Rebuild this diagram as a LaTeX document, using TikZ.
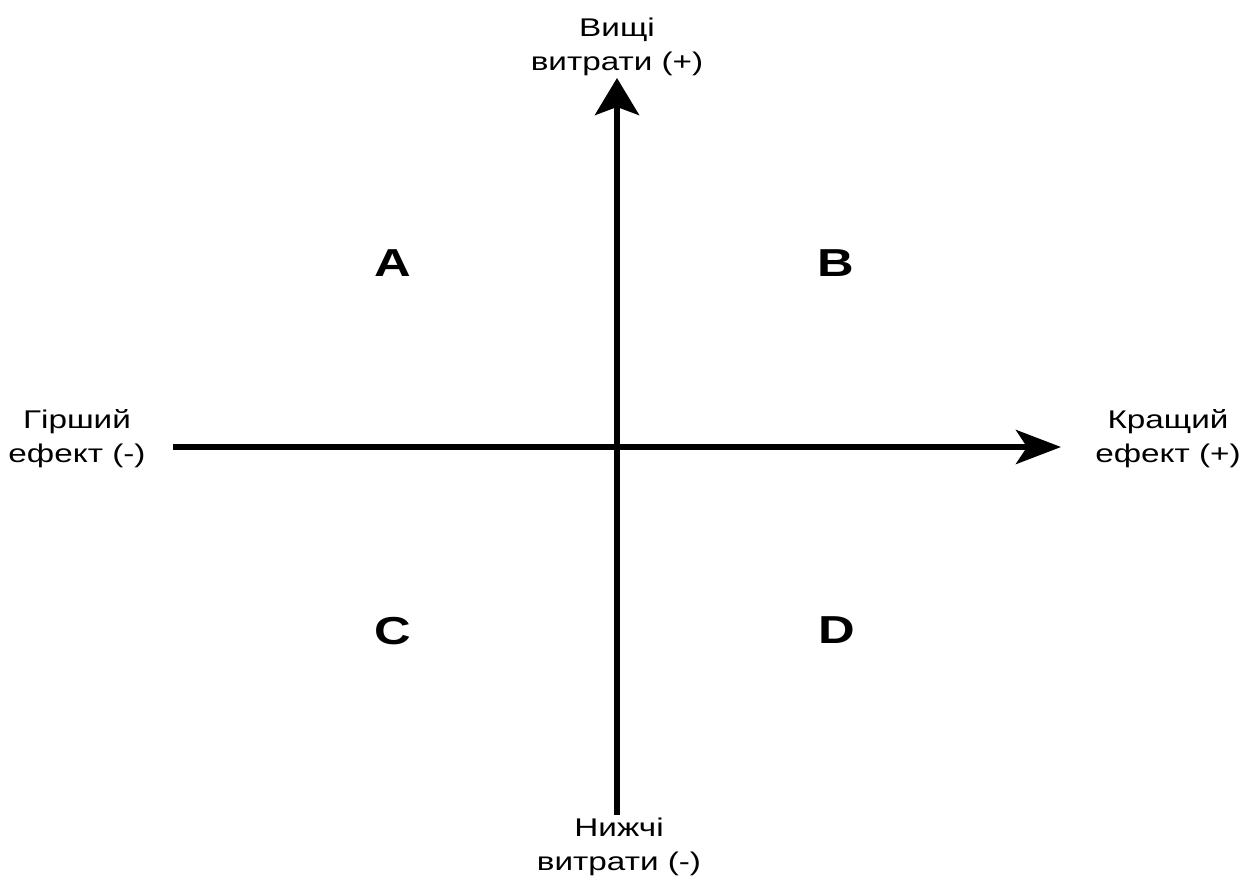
\documentclass[tikz,border=0pt]{standalone}
\usepackage{fontspec}
\usetikzlibrary{arrows.meta}
\newfontfamily\labfont[FakeStretch=1.3]{Liberation Sans}
\tikzset{
  axis/.style={line width=6pt},
  vhead/.style={-{Stealth[length=37pt,width=44pt,inset=8pt]}},
  hhead/.style={-{Stealth[length=45pt,width=34pt,inset=11pt]}},
  lab/.style={inner sep=0pt,align=center,anchor=base,font=\labfont\fontsize{25.6}{34}\selectfont},
  quad/.style={inner sep=0pt,font=\labfont\bfseries\fontsize{39}{40}\selectfont}
}
\begin{document}
\begin{tikzpicture}[x=1pt,y=-1pt]
\useasboundingbox (0,0) rectangle (1243,879);
\coordinate (vb) at (617,815);
\coordinate (vt) at (617,78);
\coordinate (hl) at (173,447);
\coordinate (hr) at (1061,447);
\draw[axis,vhead] (vb) -- (vt);
\draw[axis,hhead] (hl) -- (hr);
\node[lab] (top) at (617,70) {Вищі\\витрати (+)};
\node[lab] (bot) at (619,870) {Нижчі\\витрати (-)};
\node[lab] (left) at (77,462) {Гірший\\ефект (-)};
\node[lab] (right) at (1168,462) {Кращий\\ефект (+)};
\node[quad] (A) at (393,263) {A};
\node[quad] (B) at (836,263) {B};
\node[quad] (C) at (393,631) {C};
\node[quad] (D) at (837,630) {D};
\end{tikzpicture}
\end{document}
